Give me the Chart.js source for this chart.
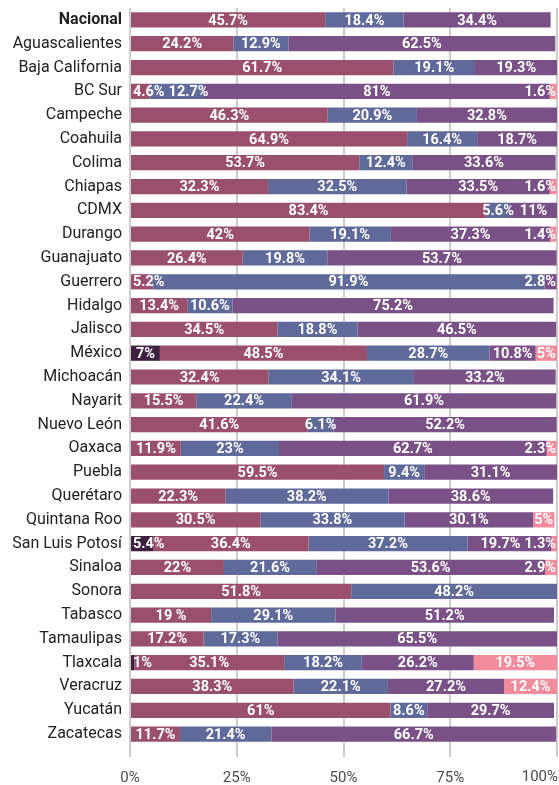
<!DOCTYPE html>
<html lang="es">
<head>
<meta charset="utf-8">
<title>Distribución por entidad</title>
<script src="https://cdn.jsdelivr.net/npm/chart.js@4.4.1/dist/chart.umd.min.js"></script>
<style>
  html, body { margin: 0; padding: 0; background: #fff; }
  #wrap { width: 559px; height: 785px; }
</style>
</head>
<body>
<div id="wrap"><canvas id="barChart" width="559" height="785"></canvas></div>
<script>
// Categories (rows)
const states = ['Nacional', 'Aguascalientes', 'Baja California', 'BC Sur', 'Campeche', 'Coahuila',
    'Colima', 'Chiapas', 'CDMX', 'Durango', 'Guanajuato', 'Guerrero', 'Hidalgo', 'Jalisco', 'México',
    'Michoacán', 'Nayarit', 'Nuevo León', 'Oaxaca', 'Puebla', 'Querétaro', 'Quintana Roo',
    'San Luis Potosí', 'Sinaloa', 'Sonora', 'Tabasco', 'Tamaulipas', 'Tlaxcala', 'Veracruz',
    'Yucatán', 'Zacatecas'];

// Series values (%), one per stacked segment, left to right
const darkValues = [0, 0, 0, 0, 0, 0, 0, 0, 0, 0, 0, 0, 0, 0, 7, 0, 0, 0, 0, 0, 0, 0, 5.4, 0, 0, 0, 0, 1, 0, 0, 0];
const roseValues = [45.7, 24.2, 61.7, 4.6, 46.3, 64.9, 53.7, 32.3, 83.4, 42, 26.4, 5.2, 13.4, 34.5, 48.5,
    32.4, 15.5, 41.6, 11.9, 59.5, 22.3, 30.5, 36.4, 22, 51.8, 19, 17.2, 35.1, 38.3, 61, 11.7];
const blueValues = [18.4, 12.9, 19.1, 12.7, 20.9, 16.4, 12.4, 32.5, 5.6, 19.1, 19.8, 91.9, 10.6, 18.8, 28.7,
    34.1, 22.4, 6.1, 23, 9.4, 38.2, 33.8, 37.2, 21.6, 48.2, 29.1, 17.3, 18.2, 22.1, 8.6, 21.4];
const purpleValues = [34.4, 62.5, 19.3, 81, 32.8, 18.7, 33.6, 33.5, 11, 37.3, 53.7, 2.8, 75.2, 46.5, 10.8,
    33.2, 61.9, 52.2, 62.7, 31.1, 38.6, 30.1, 19.7, 53.6, 0, 51.2, 65.5, 26.2, 27.2, 29.7, 66.7];
const pinkValues = [0, 0, 0, 1.6, 0, 0, 0, 1.6, 0, 1.4, 0, 0, 0, 0, 5, 0, 0, 0, 2.3, 0, 0, 5, 1.3, 2.9,
    0, 0, 0, 19.5, 12.4, 0, 0];

// x axis ticks
const xTicks = [0, 25, 50, 75, 100];

// label text exactly as printed in the source (one typo kept)
const labelOverrides = { 'Tabasco|1': '19 %' };

const FONT = 'Roboto, "Noto Sans", sans-serif';
const TICK_COLOR = '#4a4a4a';

// Draw white value labels inside each segment, nudged so they never overlap
const segmentLabels = {
    id: 'segmentLabels',
    afterDatasetsDraw(chart) {
        const ctx = chart.ctx;
        const area = chart.chartArea;
        const gap = 4;
        ctx.save();
        ctx.font = 'bold 14.5px ' + FONT;
        ctx.fillStyle = '#ffffff';
        ctx.textBaseline = 'middle';
        ctx.textAlign = 'left';
        chart.data.labels.forEach((state, i) => {
            const items = [];
            chart.data.datasets.forEach((ds, d) => {
                const v = ds.data[i];
                if (!v) return;
                const bar = chart.getDatasetMeta(d).data[i];
                const text = labelOverrides[state + '|' + d] || (v + '%');
                const w = ctx.measureText(text).width;
                const left = Math.min(bar.x, bar.base);
                const right = Math.max(bar.x, bar.base);
                items.push({ text, w, x: (left + right) / 2 - w / 2, y: bar.y });
            });
            let prev = area.left + 3;
            items.forEach(it => {
                it.x = Math.max(it.x, prev);
                prev = it.x + it.w + gap;
            });
            let next = area.right - 1;
            for (let k = items.length - 1; k >= 0; k--) {
                items[k].x = Math.min(items[k].x, next - items[k].w);
                next = items[k].x - gap;
            }
            items.forEach(it => ctx.fillText(it.text, it.x, it.y + 1));
        });

        // last x tick label sits flush with the right edge
        const xs = chart.scales.x;
        const last = xTicks[xTicks.length - 1];
        ctx.font = '15px ' + FONT;
        ctx.fillStyle = TICK_COLOR;
        ctx.textAlign = 'right';
        ctx.textBaseline = 'middle';
        ctx.fillText(last + '%', Math.min(xs.getPixelForValue(last) + 1, chart.width - 1), 777);
        ctx.restore();
    }
};

const makeSet = (label, data, color) => ({
    label: label,
    data: data,
    backgroundColor: color,
    borderWidth: 0,
    barPercentage: 0.64,
    categoryPercentage: 1
});

const ctx = document.getElementById('barChart').getContext('2d');
const barChart = new Chart(ctx, {
    type: 'bar',
    data: {
        labels: states,
        datasets: [
            makeSet('Serie 1', darkValues, '#3d1f40'),
            makeSet('Serie 2', roseValues, '#9a506c'),
            makeSet('Serie 3', blueValues, '#5f6a9b'),
            makeSet('Serie 4', purpleValues, '#7a5186'),
            makeSet('Serie 5', pinkValues, '#f28b9c')
        ]
    },
    options: {
        indexAxis: 'y',
        responsive: false,
        animation: false,
        layout: { padding: { top: 8, right: 2, left: 0, bottom: 0 } },
        plugins: {
            legend: { display: false },
            tooltip: { enabled: false }
        },
        scales: {
            x: {
                stacked: true,
                min: 0,
                max: 100,
                afterBuildTicks: (scale) => {
                    scale.ticks = xTicks.map(v => ({ value: v }));
                },
                afterFit: (scale) => {
                    scale.height = 39;
                    scale.paddingLeft = 0;
                    scale.paddingRight = 0;
                },
                grid: {
                    color: '#cccccc',
                    lineWidth: 2,
                    tickLength: 11
                },
                border: { display: false },
                ticks: {
                    padding: 12,
                    color: (c) => c.index === xTicks.length - 1 ? 'rgba(0,0,0,0)' : TICK_COLOR,
                    font: { family: FONT, size: 15 },
                    callback: (v) => v + '%'
                }
            },
            y: {
                stacked: true,
                afterFit: (scale) => {
                    scale.width = 130;
                    scale.paddingTop = 0;
                    scale.paddingBottom = 0;
                },
                grid: { display: false, drawTicks: false },
                border: { display: false },
                ticks: {
                    padding: 8,
                    color: '#222222',
                    font: (c) => ({
                        family: FONT,
                        size: 16,
                        weight: c.index === 0 ? 'bold' : 'normal'
                    })
                }
            }
        }
    },
    plugins: [segmentLabels]
});
</script>
</body>
</html>
